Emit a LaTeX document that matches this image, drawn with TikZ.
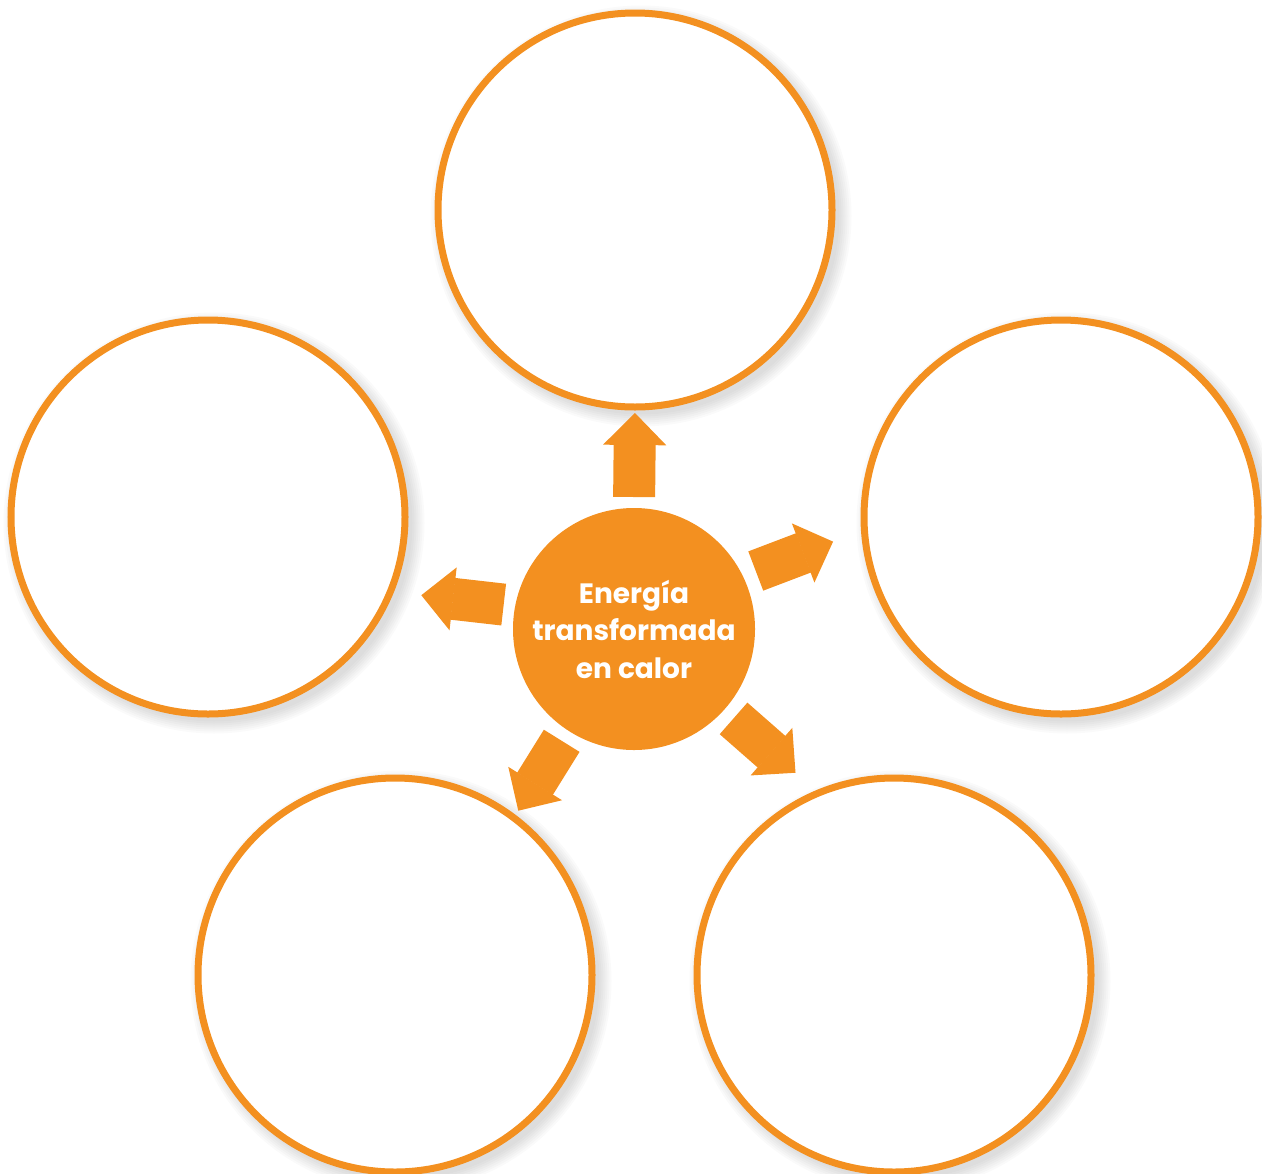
\documentclass[tikz,border=0pt]{standalone}
\usepackage{fontspec}
\setmainfont{Poppins}
\usetikzlibrary{arrows.meta,backgrounds}
\definecolor{naranja}{HTML}{F39020}

\begin{document}
\begin{tikzpicture}[x=0.5pt, y=-0.5pt,
	   circ/.style={circle, draw=naranja, line width=3.5pt, fill=white, minimum size=197pt, inner sep=0pt},
	   flecha/.style={naranja, line width=21pt, -{Triangle[length=16pt, width=31.5pt, line width=0.8pt]}}]
	  \useasboundingbox (0,0) rectangle (1262,1173);
	  \node[circle, fill=naranja, minimum size=121pt, inner sep=0pt, outer sep=0pt, text=white, align=center,
	        font=\bfseries\fontsize{14}{18.75}\selectfont] (c) at (634,629) {Energía\\transformada\\en calor};
	  \node[circ] (sup) at (635,210) {};
	  \node[circ] (izq) at (208,517) {};
	  \node[circ] (der) at (1061,517) {};
	  \node[circ] (infi) at (395,975) {};
	  \node[circ] (infd) at (894,975) {};
	  \begin{scope}[on background layer]
	    \foreach \n in {sup,izq,der,infi,infd}
	      \foreach \k in {0,...,6}
	        \fill[black, fill opacity=0.018] ([shift={(6,6)}]\n.center) circle ({99.25pt+1pt*\k});
	  \end{scope}
	  \draw[flecha, shorten <=5.5pt, shorten >=1.25pt] (c.90) -- (sup.-90);
	  \draw[flecha, shorten <=5.81pt, shorten >=13.79pt] (c.169.44) -- (izq.-22.23);
	  \draw[flecha, shorten <=6.96pt, shorten >=14.94pt] (c.26.34) -- (der.184.2);
	  \draw[flecha, shorten <=6.07pt, shorten >=2.46pt] (c.-123.58) -- (infi.53.83);
	  \draw[flecha, shorten <=6.4pt, shorten >=13.42pt] (c.-42.4) -- (infd.113.13);
	\end{tikzpicture}
\end{document}
